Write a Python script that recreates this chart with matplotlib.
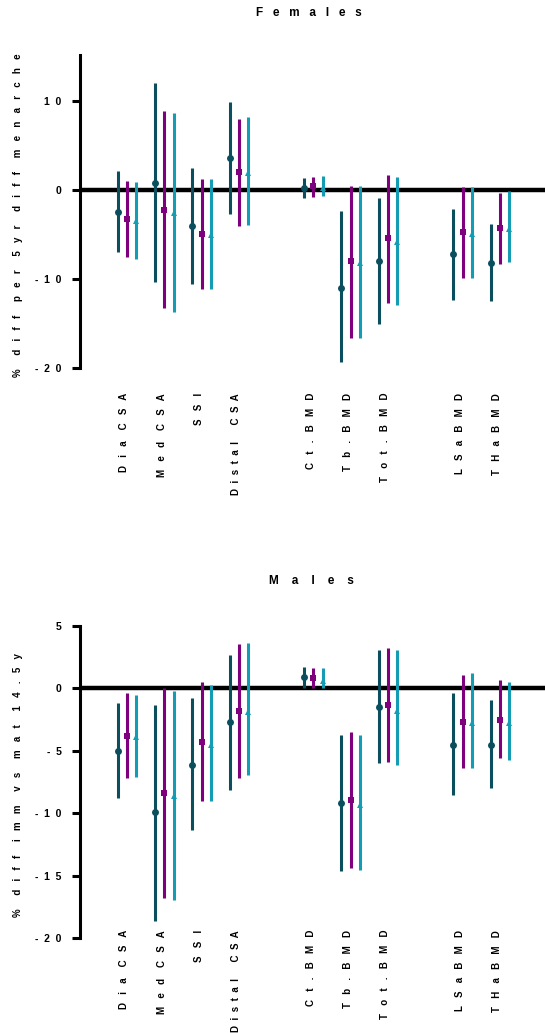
import numpy as np
import matplotlib
matplotlib.use("Agg")
import matplotlib.pyplot as plt
from matplotlib.ticker import FuncFormatter
from matplotlib.transforms import ScaledTranslation

plt.rcParams['font.family'] = ['Liberation Sans', 'DejaVu Sans']
plt.rcParams['font.weight'] = 'bold'

# categories, split into blocks (bone geometry | vBMD | aBMD)
blocks = [["Dia CSA", "Med CSA", "SSI", "Distal CSA"],
          ["Ct.BMD", "Tb.BMD", "Tot.BMD"],
          ["LSaBMD", "THaBMD"]]

# Females: % diff per 5yr diff menarche
f1_mid = [-2.5, 0.8, -4.0, 3.6, 0.2, -11.0, -8.0, -7.2, -8.2]
f1_lo = [-7.0, -10.3, -10.6, -2.7, -0.9, -19.3, -15.1, -12.4, -12.5]
f1_hi = [2.2, 12.1, 2.5, 9.9, 1.4, -2.4, -0.9, -2.1, -3.8]
f2_mid = [-3.3, -2.2, -4.9, 2.0, 0.45, -8.0, -5.4, -4.75, -4.3]
f2_lo = [-7.5, -13.3, -11.1, -4.0, -0.75, -16.6, -12.7, -9.85, -8.3]
f2_hi = [1.05, 8.9, 1.2, 8.0, 1.5, 0.5, 1.7, 0.4, -0.3]
f3_mid = [-3.5, -2.6, -5.1, 1.95, 0.2, -8.2, -5.8, -4.9, -4.4]
f3_lo = [-7.7, -13.7, -11.1, -3.9, -0.65, -16.6, -12.9, -9.85, -8.1]
f3_hi = [0.95, 8.7, 1.3, 8.2, 1.6, 0.5, 1.5, 0.4, -0.1]

# Males: % diff imm vs mat at 14.5y
m1_mid = [-5.0, -9.9, -6.1, -2.7, 0.9, -9.2, -1.5, -4.5, -4.5]
m1_lo = [-8.75, -18.6, -11.35, -8.1, 0.0, -14.6, -6.0, -8.5, -8.0]
m1_hi = [-1.2, -1.3, -0.8, 2.7, 1.7, -3.75, 3.1, -0.4, -0.95]
m2_mid = [-3.8, -8.4, -4.3, -1.8, 0.8, -8.9, -1.3, -2.7, -2.5]
m2_lo = [-7.15, -16.8, -9.0, -7.15, 0.05, -14.4, -5.9, -6.4, -5.6]
m2_hi = [-0.4, 0.0, 0.5, 3.55, 1.6, -3.5, 3.2, 1.1, 0.7]
m3_mid = [-3.9, -8.6, -4.5, -1.85, 0.6, -9.35, -1.8, -2.75, -2.75]
m3_lo = [-7.1, -16.9, -9.0, -6.9, 0.0, -14.55, -6.1, -6.4, -5.7]
m3_hi = [-0.5, -0.2, 0.3, 3.6, 1.6, -3.7, 3.05, 1.2, 0.5]

colors = ["#0b4f5f", "#7f007f", "#159cb5"]
markers = ["o", "s", "^"]


# the original export has letter-spaced text
def spaced(s, sep="   ", wsep="    "):
    return wsep.join(sep.join(w) for w in s.split(" "))


def xlabel_text(name):
    # "Distal CSA" is set tighter in the original
    if name == "Distal CSA":
        return spaced(name, sep="  ", wsep="      ")
    return spaced(name)


# x positions with a one-slot gap between blocks
labels, xpos = [], []
p = 0
for b in blocks:
    for name in b:
        labels.append(name)
        xpos.append(p)
        p += 1
    p += 1
xpos = np.array(xpos, dtype=float)


def draw_panel(ax, series, ylim, yticks, label_pad):
    offs = [-0.25, 0.0, 0.25]
    for (mid, lo, hi), c, m, o in zip(series, colors, markers, offs):
        mid, lo, hi = np.array(mid), np.array(lo), np.array(hi)
        ax.errorbar(xpos + o, mid, yerr=[mid - lo, hi - mid], fmt=m, color=c,
                    ms=5, elinewidth=2.2, capsize=2.7, capthick=2.8,
                    markeredgewidth=0, zorder=3)
    ax.axhline(0, color="black", lw=3.2, zorder=2)
    ax.set_xlim(-1.26, 11.21)
    ax.set_ylim(*ylim)
    ax.set_yticks(yticks)
    ax.yaxis.set_major_formatter(FuncFormatter(lambda v, pos: spaced("%d" % v, sep="  ")))
    for s in ["top", "right", "bottom"]:
        ax.spines[s].set_visible(False)
    ax.spines["left"].set_linewidth(2.2)
    ax.tick_params(axis="y", width=2.2, length=5.8, labelsize=7.5, pad=7.5)
    ax.set_xticks(xpos)
    ax.set_xticklabels([xlabel_text(l) for l in labels], rotation=90, fontsize=7,
                       fontweight="bold", va="top")
    ax.tick_params(axis="x", length=0, pad=label_pad)
    for t in ax.get_xticklabels():
        t.set_transform(t.get_transform() + ScaledTranslation(-2 / 72, 0, ax.figure.dpi_scale_trans))


fig = plt.figure(figsize=(5.45, 10.33), dpi=100)
ax1 = fig.add_axes([0.1468, 0.6438, 0.8532, 0.3030])
ax2 = fig.add_axes([0.1468, 0.0917, 0.8532, 0.3023])

draw_panel(ax1, [(f1_mid, f1_lo, f1_hi), (f2_mid, f2_lo, f2_hi), (f3_mid, f3_lo, f3_hi)],
           (-20, 15.2), [-20, -10, 0, 10], 18)
draw_panel(ax2, [(m1_mid, m1_lo, m1_hi), (m2_mid, m2_lo, m2_hi), (m3_mid, m3_lo, m3_hi)],
           (-20, 5), [-20, -15, -10, -5, 0, 5], -6)

# titles and y labels
fig.text(309 / 545, 1 - 13 / 1033, spaced("Females"), fontsize=8.5,
         fontweight="bold", ha="center", va="center")
fig.text(311 / 545, 1 - 581 / 1033, spaced("Males", sep="    "), fontsize=8.5,
         fontweight="bold", ha="center", va="center")
fig.text(18 / 545, 1 - 215 / 1033, spaced("% diff per 5yr diff menarche", wsep="     "),
         fontsize=7, fontweight="bold", rotation=90, ha="center", va="center")
fig.text(18 / 545, 1 - 785 / 1033, spaced("% diff imm vs mat 14.5y", wsep="     "),
         fontsize=7, fontweight="bold", rotation=90, ha="center", va="center")

fig.savefig("out.png", dpi=100)
